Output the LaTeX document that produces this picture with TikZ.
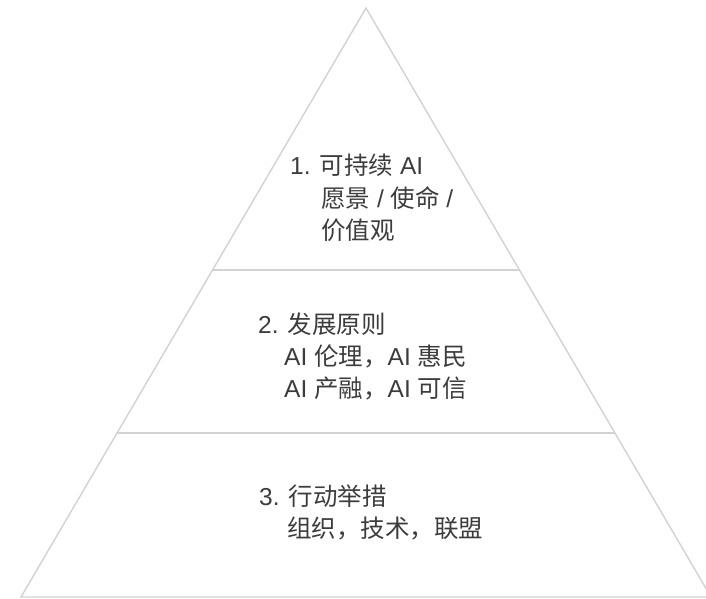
\documentclass[tikz,border=0pt]{standalone}
\usepackage{fontspec}
\setmainfont{Liberation Sans}
\newfontfamily\cjk{Noto Sans CJK SC}
\usetikzlibrary{calc}
\definecolor{linegray}{HTML}{D2D2D2}
\definecolor{textgray}{HTML}{3C3C3C}
\begin{document}
\begin{tikzpicture}[x=1pt,y=-1pt,
  edge/.style={draw=linegray, line width=1.4pt},
  lbl/.style={anchor=base west, inner sep=0pt, font=\fontsize{24.5}{28}\selectfont, text=textgray}]
\useasboundingbox (0,0) rectangle (706,598);
\clip (0,0) rectangle (706,598);
\coordinate (apex) at (366,8);
\coordinate (bl) at (21,597);
\coordinate (br) at (711,597);
\coordinate (l1) at ($(apex)!0.4448!(bl)$);
\coordinate (r1) at ($(apex)!0.4448!(br)$);
\coordinate (l2) at ($(apex)!0.7216!(bl)$);
\coordinate (r2) at ($(apex)!0.7216!(br)$);
\draw[edge, line join=miter] (apex) -- (bl) -- (br) -- cycle;
\draw[edge] (l1) -- (r1);
\draw[edge] (l2) -- (r2);
% block 1
\node[lbl] (t1a) at (290,174) {1. {\cjk 可持续} AI};
\node[lbl] (t1b) at (321,207) {{\cjk 愿景} / {\cjk 使命} /};
\node[lbl] (t1c) at (321,239) {\cjk 价值观};
% block 2
\node[lbl] (t2a) at (258,333) {2. {\cjk 发展原则}};
\node[lbl] (t2b) at (284,365) {AI {\cjk 伦理，}AI {\cjk 惠民}};
\node[lbl] (t2c) at (284,397) {AI {\cjk 产融，}AI {\cjk 可信}};
% block 3
\node[lbl] (t3a) at (259,505) {3. {\cjk 行动举措}};
\node[lbl] (t3b) at (287,537) {\cjk 组织，技术，联盟};
\end{tikzpicture}
\end{document}
